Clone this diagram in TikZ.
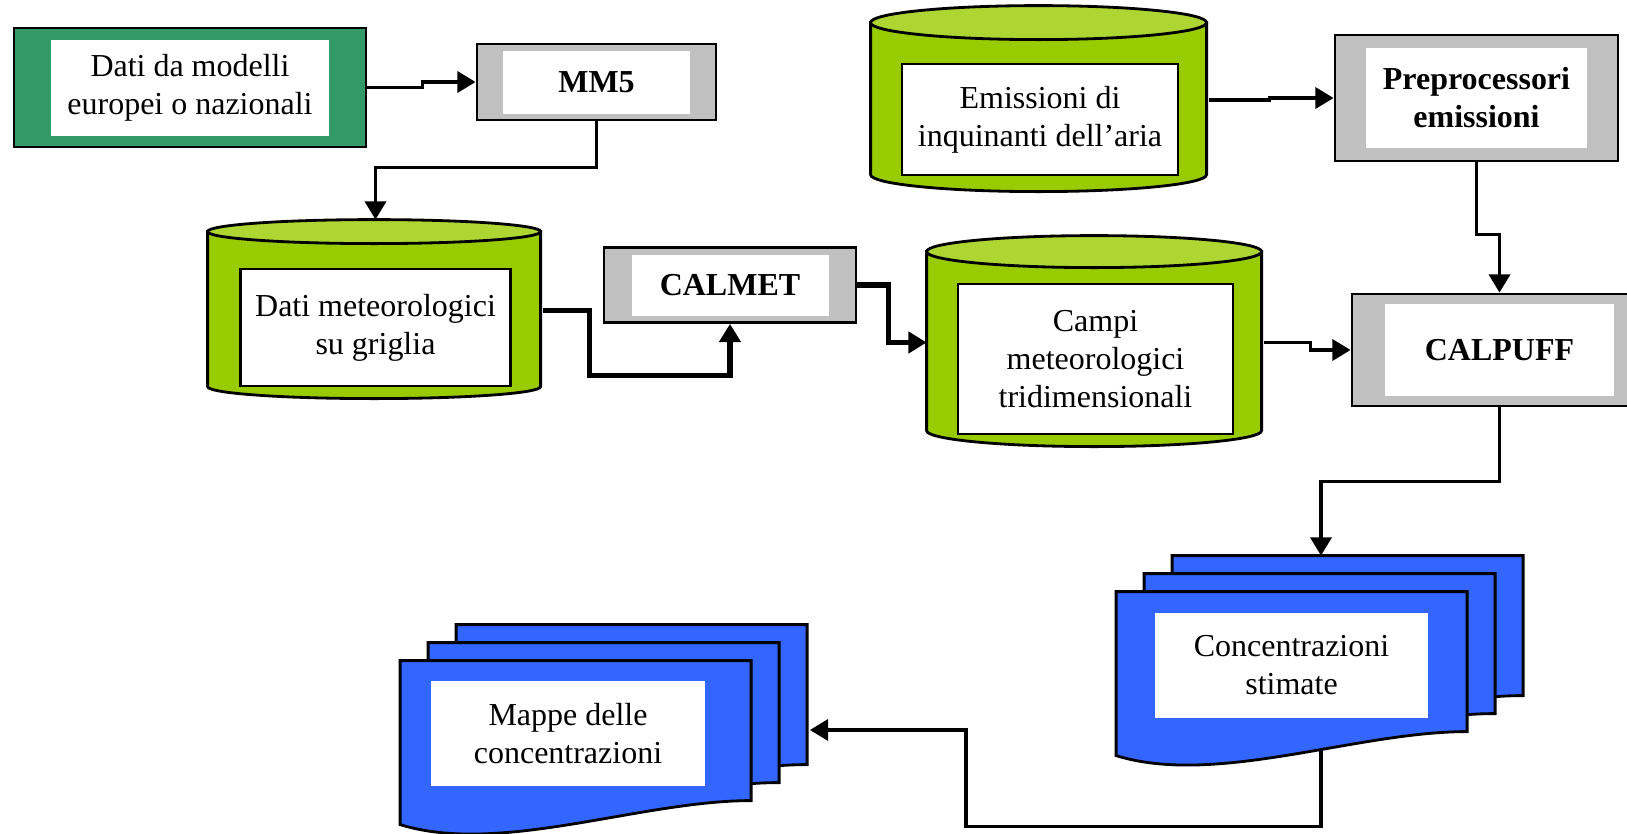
\documentclass[tikz,border=0pt]{standalone}
\usepackage{fontspec}
\setmainfont{Liberation Serif}
\usepackage{tikz}
\usetikzlibrary{shapes,arrows.meta}
\definecolor{srcgreen}{RGB}{51,153,102}
\definecolor{storegreen}{RGB}{153,204,0}
\definecolor{storetop}{RGB}{173,214,51}
\definecolor{modelgray}{RGB}{192,192,192}
\definecolor{mapblue}{RGB}{51,102,255}
\tikzstyle{source} = [draw, fill=srcgreen, minimum width=3.52cm, minimum height=1.19cm]
\tikzstyle{model} = [draw, fill=modelgray]
\tikzstyle{store} = [rectangle, inner sep=0pt]
\tikzstyle{textBox} = [fill=white, align=center, inner sep=0pt]
\tikzstyle{storeText} = [textBox, draw]
\tikzstyle{stack} = [rectangle, minimum width=4.07cm, minimum height=2.08cm]
\tikzstyle{sheet} = [draw, fill=mapblue]
\tikzstyle{line} = [draw, line width=1pt, -{Triangle[length=5.2pt,width=6pt]}]
\tikzstyle{thickline} = [line, line width=1.5pt]
% green drum inside the node #1: width #2, height #3, end radius #4
\newcommand{\cylstore}[4]{%
  \begin{scope}[shift={(#1.north west)}]
    \filldraw [fill=storegreen] (0,-#4) -- (0,-#3+#4)
      arc [start angle=180, end angle=360, x radius=#2/2, y radius=#4]
      -- (#2,-#4) -- cycle;
    \filldraw [fill=storetop] (#2/2,-#4) ellipse [x radius=#2/2, y radius=#4];
  \end{scope}}
% one blue sheet, top left corner at #1,#2
\newcommand{\docsheet}[2]{%
  \draw [sheet, shift={(#1,#2)}] (0,0) -- (3.51,0) -- (3.51,-1.40)
    .. controls (2.40,-1.40) and (1.00,-1.95) .. (0,-1.64) -- cycle;}
% three sheets inside the node #1
\newcommand{\sheetstack}[1]{%
  \begin{scope}[shift={(#1.north west)}]
    \docsheet{0.56}{0}
    \docsheet{0.28}{-0.18}
    \docsheet{0}{-0.36}
  \end{scope}}
\begin{document}
\begin{tikzpicture}[font=\fontsize{9.1pt}{10.8pt}\selectfont, line width=0.8pt]
    \useasboundingbox (0,0) rectangle (16.27,-8.34);
    % Place nodes
    \node [source] (dati) at (1.90,-0.875) {};
    \node [textBox, minimum width=2.77cm, minimum height=0.96cm] at (dati) {Dati da modelli\\europei o nazionali};
    \node [model, minimum width=2.39cm, minimum height=0.76cm] (mm5) at (5.965,-0.82) {};
    \node [textBox, minimum width=1.87cm, minimum height=0.63cm] at (mm5) {\bfseries MM5};
    \node [store, minimum width=3.33cm, minimum height=1.79cm] (meteo) at (3.755,-3.105) {};
    \cylstore{meteo}{3.33}{1.79}{0.12}
    \node [storeText, below of=meteo, node distance=0.17cm, minimum width=2.70cm, minimum height=1.17cm] {Dati meteorologici\\su griglia};
    \node [model, minimum width=2.52cm, minimum height=0.75cm] (calmet) at (7.30,-2.85) {};
    \node [textBox, minimum width=1.97cm, minimum height=0.61cm] at (calmet) {\bfseries CALMET};
    \node [store, minimum width=3.35cm, minimum height=2.11cm] (campi) at (10.955,-3.425) {};
    \cylstore{campi}{3.35}{2.11}{0.16}
    \node [storeText, below of=campi, node distance=0.165cm, minimum width=2.75cm, minimum height=1.50cm] {Campi\\meteorologici\\tridimensionali};
    \node [store, minimum width=3.36cm, minimum height=1.86cm] (emis) at (10.40,-1.00) {};
    \cylstore{emis}{3.36}{1.86}{0.17}
    \node [storeText, below of=emis, node distance=0.195cm, minimum width=2.76cm, minimum height=1.11cm] {Emissioni di\\inquinanti dell'aria};
    \node [model, minimum width=2.83cm, minimum height=1.26cm] (preproc) at (14.765,-0.98) {};
    \node [textBox, minimum width=2.21cm, minimum height=1.00cm] at (preproc) {\bfseries Preprocessori\\\bfseries emissioni};
    \node [model, minimum width=2.95cm, minimum height=1.12cm] (calpuff) at (14.995,-3.50) {};
    \node [textBox, minimum width=2.29cm, minimum height=0.92cm] at (calpuff) {\bfseries CALPUFF};
    \node [stack] (conc) at (13.21,-6.61) {};
    \sheetstack{conc}
    \node [textBox, minimum width=2.73cm, minimum height=1.05cm] at (12.915,-6.655) {Concentrazioni\\stimate};
    \node [stack] (mappe) at (6.05,-7.30) {};
    \sheetstack{mappe}
    \node [textBox, minimum width=2.74cm, minimum height=1.05cm] at (5.68,-7.335) {Mappe delle\\concentrazioni};

    % Draw edges
    \path [line] (dati.east) -- ++(0.55,0) |- (mm5.west);
    \path [line] (mm5.south) -- ++(0,-0.46) -| (meteo.north);
    \path [thickline] (meteo.east) -- ++(0.46,0) -- ++(0,-0.65) -| (calmet.south);
    \path [thickline] (calmet.east) -- ++(0.31,0) |- (campi.west);
    \path [line] (emis.east) -- ++(0.60,0) |- (preproc.west);
    \path [line] (preproc.south) -- ++(0,-0.72) -| (calpuff.north);
    \path [line] (campi.east) -- ++(0.46,0) |- (calpuff.west);
    \path [line] (calpuff.south) -- ++(0,-0.74) -| (conc.north);
    \path [line] ([yshift=0.15cm]conc.south) -- ++(0,-0.75) -| ([xshift=1.56cm]mappe.east) -- (mappe.east);
\end{tikzpicture}
\end{document}
